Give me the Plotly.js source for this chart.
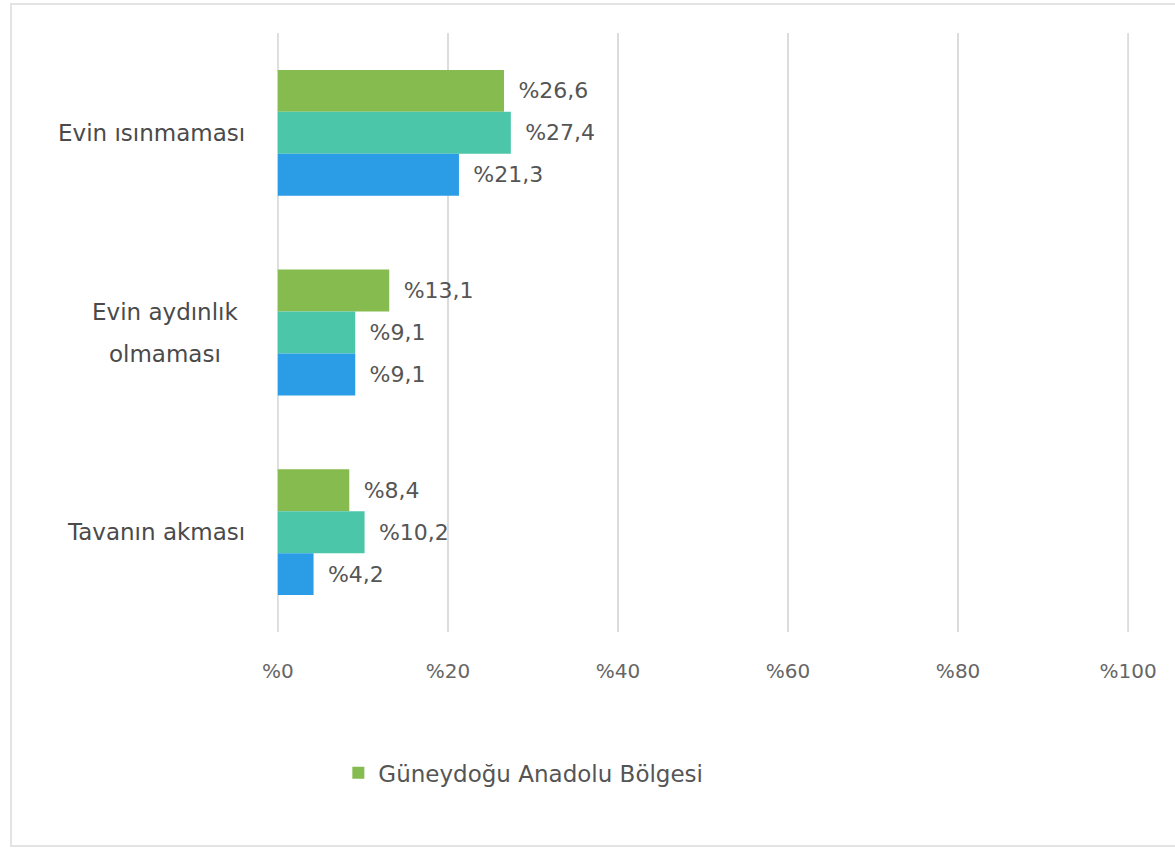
<!DOCTYPE html>
<html>
<head>
<meta charset="utf-8">
<script src="https://cdn.plot.ly/plotly-3.0.1.min.js"></script>
<style>
  html, body { margin: 0; padding: 0; background: #fff; }
  #wrap { position: relative; width: 1175px; height: 849px; }
  #chart { width: 1175px; height: 849px; }
  #frame { position: absolute; left: 10px; top: 3px; width: 1180px; height: 844px;
           border: 2px solid #e3e3e3; box-sizing: border-box; pointer-events: none; }
</style>
</head>
<body>
<div id="wrap">
  <div id="chart"></div>
  <div id="frame"></div>
</div>
<script>
const categories = ['Evin ısınmaması', 'Evin aydınlık<br>olmaması', 'Tavanın akması'];
const seriesNames = ['Güneydoğu Anadolu Bölgesi', 'Seri 2', 'Seri 3'];
const seriesA = [26.6, 13.1, 8.4];
const seriesB = [27.4, 9.1, 10.2];
const seriesC = [21.3, 9.1, 4.2];
const xTickVals = [0, 20, 40, 60, 80, 100];
const xTickText = ['%0', '%20', '%40', '%60', '%80', '%100'];

const colors = ['#86bb4f', '#4bc6a8', '#2b9ce6'];
const fontFam = '"DejaVu Sans", Verdana, sans-serif';
const fmt = v => '\u00a0\u2009%' + String(v).replace('.', ',');

const allSeries = [seriesA, seriesB, seriesC];
const traces = allSeries.map((vals, i) => ({
  type: 'bar',
  orientation: 'h',
  name: seriesNames[i],
  y: categories,
  x: vals,
  text: vals.map(fmt),
  textposition: 'outside',
  cliponaxis: false,
  textfont: { family: fontFam, size: 22, color: '#555' },
  marker: { color: colors[i] },
  showlegend: i === 0,
  hoverinfo: 'x+y'
}));

// category labels: single lines right-aligned; multi-line blocks centred, generous line spacing
const annotations = [];
categories.forEach(c => {
  const lines = c.split('<br>');
  const step = 42;
  lines.forEach((ln, k) => {
    const multi = lines.length > 1;
    annotations.push({
      xref: 'paper', yref: 'y', x: multi ? -0.1315 : -0.035, y: c,
      text: ln, showarrow: false, xanchor: multi ? 'center' : 'right', yanchor: 'middle',
      align: 'center',
      yshift: ((lines.length - 1) / 2 - k) * step,
      font: { family: fontFam, size: 23, color: '#4a4a4a' }
    });
  });
});

const layout = {
  width: 1175, height: 849,
  margin: { l: 277, r: 46, t: 33, b: 217 },
  paper_bgcolor: '#fff', plot_bgcolor: '#fff',
  barmode: 'group',
  bargap: 0.37,
  bargroupgap: 0,
  font: { family: fontFam, color: '#555' },
  xaxis: {
    range: [-0.1, 100.1],
    tickvals: xTickVals, ticktext: xTickText,
    showgrid: true, gridcolor: '#dcdcdc', gridwidth: 2,
    zeroline: false, showline: false, ticks: '',
    ticklabelstandoff: 25,
    tickfont: { family: fontFam, size: 20, color: '#666' },
    fixedrange: true
  },
  yaxis: {
    type: 'category',
    autorange: 'reversed',
    showticklabels: false,
    showgrid: false, zeroline: false, showline: false, ticks: '',
    fixedrange: true
  },
  shapes: [0, 100].map(v => ({
    type: 'line', xref: 'x', yref: 'paper', x0: v, x1: v, y0: 0, y1: 1,
    line: { color: '#dcdcdc', width: 2 }, layer: 'below'
  })),
  showlegend: true,
  legend: {
    orientation: 'h', x: 0.072, y: -0.235, xanchor: 'left', yanchor: 'middle',
    font: { family: fontFam, size: 23, color: '#555' },
    bgcolor: 'rgba(0,0,0,0)'
  },
  annotations: annotations
};

Plotly.newPlot('chart', traces, layout, { displayModeBar: false, staticPlot: true });
</script>
</body>
</html>
